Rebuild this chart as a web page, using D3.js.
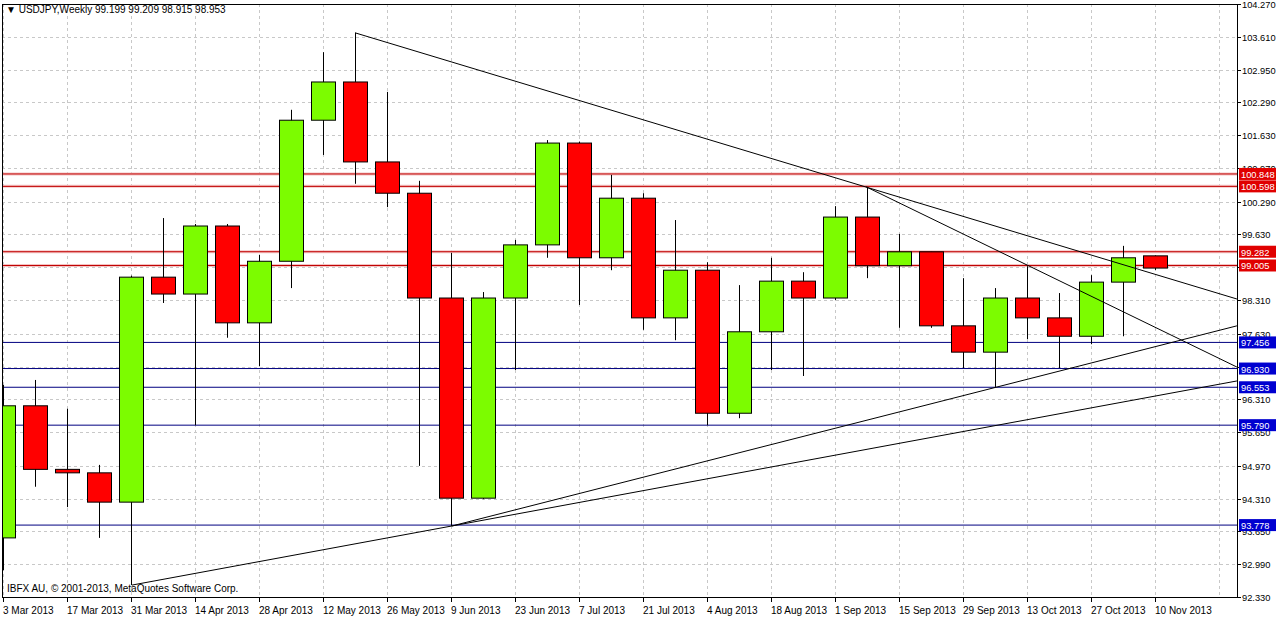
<!DOCTYPE html>
<html lang="en">
<head>
<meta charset="utf-8">
<title>USDJPY Weekly</title>
<script src="https://d3js.org/d3.v7.min.js"></script>
<style>
  body { margin: 0; background: #fff; }
  text { font-family: "Liberation Sans", Arial, sans-serif; font-size: 10px; }
  .pax text, .lvl text { font-size: 9.3px; }
</style>
</head>
<body>
<div id="chart"></div>
<script>
// weekly bars, 3 Mar 2013 .. 10 Nov 2013
var weeks = ["3 Mar 2013","10 Mar 2013","17 Mar 2013","24 Mar 2013","31 Mar 2013","7 Apr 2013","14 Apr 2013",
  "21 Apr 2013","28 Apr 2013","5 May 2013","12 May 2013","19 May 2013","26 May 2013","2 Jun 2013","9 Jun 2013",
  "16 Jun 2013","23 Jun 2013","30 Jun 2013","7 Jul 2013","14 Jul 2013","21 Jul 2013","28 Jul 2013","4 Aug 2013",
  "11 Aug 2013","18 Aug 2013","25 Aug 2013","1 Sep 2013","8 Sep 2013","15 Sep 2013","22 Sep 2013","29 Sep 2013",
  "6 Oct 2013","13 Oct 2013","20 Oct 2013","27 Oct 2013","3 Nov 2013","10 Nov 2013"];
var opens  = [93.52,96.18,94.90,94.83,94.24,98.77,98.43,99.80,97.85,99.09,101.93,102.70,101.09,100.46,98.35,94.32,98.35,99.42,101.47,99.16,100.36,97.95,98.91,96.03,97.67,98.69,98.35,99.98,99.00,99.28,97.79,97.26,98.35,97.95,97.58,98.67,99.199];
var highs  = [96.60,96.70,96.12,94.99,98.80,99.96,99.84,99.84,99.22,102.14,103.30,103.69,102.50,100.71,99.26,98.47,99.52,101.53,101.50,100.83,100.46,99.92,99.07,98.61,99.16,98.87,100.20,100.59,99.64,99.28,98.75,98.55,98.99,98.45,98.81,99.40,99.209];
var lows   = [92.87,94.55,94.14,93.52,92.57,98.25,95.79,97.55,96.98,98.55,101.23,100.65,100.18,94.97,93.76,94.30,96.90,99.16,98.21,98.91,97.71,97.50,95.79,95.93,96.90,96.78,98.31,98.75,97.75,97.75,96.94,96.56,97.52,96.94,97.42,97.58,98.915];
var closes = [96.18,94.90,94.83,94.24,98.77,98.43,99.80,97.85,99.09,101.93,102.70,101.09,100.46,98.35,94.32,98.35,99.42,101.47,99.16,100.36,97.95,98.91,96.03,97.67,98.69,98.35,99.98,99.00,99.28,97.79,97.26,98.35,97.95,97.58,98.67,99.16,98.953];
// horizontal levels
var resistLevels = [100.848, 100.598, 99.282, 99.005];
var supportLevels = [97.456, 96.930, 96.553, 95.790, 93.778];
// price ticks
var priceTicks = [104.270,103.610,102.950,102.290,101.630,100.970,100.290,99.630,98.970,98.310,97.630,96.970,96.310,95.650,94.970,94.310,93.650,92.990,92.330];
// trend lines as [week index, price] pairs
var trendLines = [
  [[11, 103.69], [38.56, 98.33]],
  [[26.97, 100.59], [38.56, 96.96]],
  [[4.03, 92.57], [38.56, 96.68]],
  [[14.03, 93.76], [38.56, 97.79]]
];

var W = 1276, H = 619;
var pL = 2, pR = 1237, pT = 4, pB = 597;

var svg = d3.select("#chart").append("svg").attr("width", W).attr("height", H);

var x = d3.scaleLinear().domain([0, 36]).range([3, 1155]);
var y = d3.scaleLinear().domain([92.33, 104.27]).range([pB, pT]);

svg.append("clipPath").attr("id", "plot")
  .append("rect").attr("x", pL).attr("y", pT).attr("width", pR - pL).attr("height", pB - pT);

var plot = svg.append("g").attr("clip-path", "url(#plot)");

// grid
plot.selectAll("line.hg").data(priceTicks).enter().append("line")
  .attr("x1", pL).attr("x2", pR).attr("y1", d => Math.round(y(d)) + 0.5).attr("y2", d => Math.round(y(d)) + 0.5)
  .attr("stroke", "#c8c8c8").attr("stroke-dasharray", "3,3");
var labelIdx = d3.range(0, weeks.length, 2);
plot.selectAll("line.vg").data(labelIdx.concat([38])).enter().append("line")
  .attr("y1", pT).attr("y2", pB).attr("x1", d => Math.round(x(d)) + 0.5).attr("x2", d => Math.round(x(d)) + 0.5)
  .attr("stroke", "#c8c8c8").attr("stroke-dasharray", "3,3");

// levels
plot.selectAll("line.res").data(resistLevels).enter().append("line")
  .attr("x1", pL).attr("x2", pR).attr("y1", d => y(d)).attr("y2", d => y(d))
  .attr("stroke", "#f4c4c4").attr("stroke-width", 3);
plot.selectAll("line.res2").data(resistLevels).enter().append("line")
  .attr("x1", pL).attr("x2", pR).attr("y1", d => y(d)).attr("y2", d => y(d))
  .attr("stroke", "#c00000").attr("stroke-width", 1);
plot.selectAll("line.sup").data(supportLevels).enter().append("line")
  .attr("x1", pL).attr("x2", pR).attr("y1", d => y(d)).attr("y2", d => y(d))
  .attr("stroke", "#000080").attr("stroke-width", 1);

// candles
var idx = d3.range(weeks.length);
var bw = 24;
plot.selectAll("line.wick").data(idx).enter().append("line")
  .attr("x1", i => Math.round(x(i)) + 0.5).attr("x2", i => Math.round(x(i)) + 0.5)
  .attr("y1", i => y(highs[i])).attr("y2", i => y(lows[i]))
  .attr("stroke", "#000");
plot.selectAll("rect.body").data(idx).enter().append("rect")
  .attr("x", i => Math.round(x(i)) - bw / 2 + 0.5)
  .attr("y", i => y(Math.max(opens[i], closes[i])))
  .attr("width", bw)
  .attr("height", i => Math.max(1, Math.abs(y(opens[i]) - y(closes[i]))))
  .attr("fill", i => closes[i] >= opens[i] ? "#7cfc00" : "#ff0000")
  .attr("stroke", "#000");

// trend lines
plot.selectAll("line.trend").data(trendLines).enter().append("line")
  .attr("x1", d => x(d[0][0])).attr("y1", d => y(d[0][1]))
  .attr("x2", d => x(d[1][0])).attr("y2", d => y(d[1][1]))
  .attr("stroke", "#000").attr("stroke-width", 1);

// frame
svg.append("rect").attr("x", pL + 0.5).attr("y", pT + 0.5).attr("width", pR - pL).attr("height", pB - pT)
  .attr("fill", "none").attr("stroke", "#000");

// price axis
var pa = svg.append("g").attr("class", "pax");
pa.selectAll("line").data(priceTicks).enter().append("line")
  .attr("x1", pR).attr("x2", pR + 4).attr("y1", d => Math.round(y(d)) + 0.5).attr("y2", d => Math.round(y(d)) + 0.5)
  .attr("stroke", "#000");
pa.selectAll("text").data(priceTicks).enter().append("text")
  .attr("x", pR + 5).attr("y", d => Math.min(H - 18, Math.max(8, y(d) + 4))).text(d => d.toFixed(3));

function levelLabels(data, color) {
  var g = svg.append("g").attr("class", "lvl");
  g.selectAll("rect").data(data).enter().append("rect")
    .attr("x", pR + 2).attr("y", d => y(d) - 6).attr("width", 37).attr("height", 12).attr("fill", color);
  g.selectAll("text").data(data).enter().append("text")
    .attr("x", pR + 4).attr("y", d => y(d) + 4).attr("fill", "#fff").text(d => d.toFixed(3));
}
levelLabels(resistLevels, "#e00000");
levelLabels(supportLevels, "#0000d0");

// time axis
var ta = svg.append("g");
ta.selectAll("line").data(labelIdx).enter().append("line")
  .attr("x1", i => Math.round(x(i)) + 0.5).attr("x2", i => Math.round(x(i)) + 0.5)
  .attr("y1", pB).attr("y2", pB + 5).attr("stroke", "#000");
ta.selectAll("text").data(labelIdx).enter().append("text")
  .attr("x", i => x(i)).attr("y", 614).text(i => weeks[i]);

// header and footer
svg.append("text").attr("x", 6).attr("y", 13).text("\u25BC USDJPY,Weekly  99.199 99.209 98.915 98.953");
svg.append("text").attr("x", 7).attr("y", 592).text("IBFX AU, \u00A9 2001-2013, MetaQuotes Software Corp.");
</script>
</body>
</html>
